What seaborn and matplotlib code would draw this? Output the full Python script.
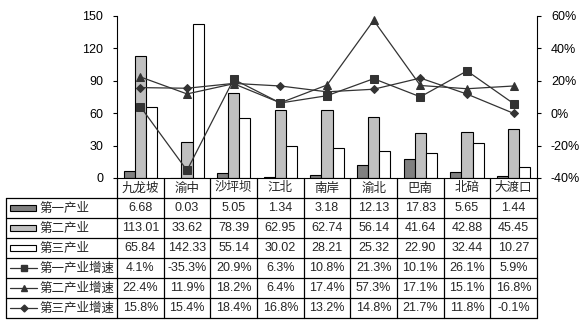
import numpy as np
import pandas as pd
import matplotlib
matplotlib.use("Agg")
import matplotlib.pyplot as plt
import seaborn as sns
from matplotlib.ticker import FuncFormatter
from matplotlib.patches import Rectangle
from matplotlib.lines import Line2D

categories = ["九龙坡", "渝中", "沙坪坝", "江北", "南岸", "渝北", "巴南", "北碚", "大渡口"]
bar_series = ["第一产业", "第二产业", "第三产业"]
ind1 = [6.68, 0.03, 5.05, 1.34, 3.18, 12.13, 17.83, 5.65, 1.44]
ind2 = [113.01, 33.62, 78.39, 62.95, 62.74, 56.14, 41.64, 42.88, 45.45]
ind3 = [65.84, 142.33, 55.14, 30.02, 28.21, 25.32, 22.90, 32.44, 10.27]
line_series = ["第一产业增速", "第二产业增速", "第三产业增速"]
g1 = [4.1, -35.3, 20.9, 6.3, 10.8, 21.3, 10.1, 26.1, 5.9]
g2 = [22.4, 11.9, 18.2, 6.4, 17.4, 57.3, 17.1, 15.1, 16.8]
g3 = [15.8, 15.4, 18.4, 16.8, 13.2, 14.8, 21.7, 11.8, -0.1]
left_ticks = [0, 30, 60, 90, 120, 150]
right_ticks = [-0.4, -0.2, 0.0, 0.2, 0.4, 0.6]

bar_colors = ["#808080", "#c0c0c0", "#ffffff"]
line_color = "#333333"
markers = ["s", "^", "D"]
msizes = [6, 6, 4.5]

sns.set_style("white")
plt.rcParams["font.family"] = ["Liberation Sans", "Noto Sans CJK SC", "DejaVu Sans"]

W, H = 584, 326
fig = plt.figure(figsize=(W / 100, H / 100), dpi=100)

L, R, T, B = 117, 537, 16, 178
ax = fig.add_axes([L / W, 1 - B / H, (R - L) / W, (B - T) / H])

bar_df = pd.DataFrame({
    "区": categories * 3,
    "产业": sum([[s] * len(categories) for s in bar_series], []),
    "值": ind1 + ind2 + ind3,
})
sns.barplot(data=bar_df, x="区", y="值", hue="产业", palette=bar_colors,
            width=0.71, edgecolor="black", linewidth=0.8, ax=ax, legend=False,
            saturation=1, zorder=2)
ax.set_xlim(-0.5, len(categories) - 0.5)
ax.set_ylim(0, 150)
ax.set_yticks(left_ticks)
ax.set_xticks([])
ax.set_xlabel("")
ax.set_ylabel("")
ax.tick_params(axis="y", direction="out", length=3, width=0.8, pad=7,
               labelsize=9, left=True, colors="black")
for s in ["top", "right"]:
    ax.spines[s].set_visible(False)
for s in ["left", "bottom"]:
    ax.spines[s].set_color("black")
    ax.spines[s].set_linewidth(0.8)
ax.patch.set_alpha(0)

ax2 = ax.twinx()
line_df = pd.DataFrame({
    "pos": list(range(len(categories))) * 3,
    "series": sum([[s] * len(categories) for s in line_series], []),
    "rate": [v / 100 for v in g1 + g2 + g3],
})
for name, mk, ms in zip(line_series, markers, msizes):
    sub = line_df[line_df["series"] == name]
    sns.lineplot(data=sub, x="pos", y="rate", color=line_color, marker=mk,
                 markersize=ms, markeredgecolor=line_color, linewidth=0.9,
                 ax=ax2, legend=False, zorder=5)
ax2.set_ylim(-0.4, 0.6)
ax2.set_yticks(right_ticks)
ax2.yaxis.set_major_formatter(FuncFormatter(lambda v, p: f"{v*100:.0f}%"))
ax2.set_xlim(-0.5, len(categories) - 0.5)
ax2.set_xlabel("")
ax2.set_ylabel("")
ax2.tick_params(axis="y", direction="out", length=3, width=0.8, pad=7,
                labelsize=9, right=True, colors="black")
for s in ["top", "left", "bottom"]:
    ax2.spines[s].set_visible(False)
ax2.spines["right"].set_color("black")
ax2.spines["right"].set_linewidth(0.8)

# data table
tab = fig.add_axes([0, 0, 1, 1])
tab.set_xlim(0, W)
tab.set_ylim(H, 0)
tab.axis("off")
tab.patch.set_alpha(0)

ncol = len(categories)
cw = (R - L) / ncol
row_h = 20
top = B
left_col = 6
n_rows = 6
bottom = top + row_h * (n_rows + 1)
lw = 0.9

# vertical lines
for i in range(ncol + 1):
    x = L + i * cw
    tab.plot([x, x], [top, bottom], color="black", lw=lw)
tab.plot([left_col, left_col], [top + row_h, bottom], color="black", lw=lw)
# horizontal lines
for r in range(1, n_rows + 2):
    y = top + r * row_h
    tab.plot([left_col, R], [y, y], color="black", lw=lw)

# header
for i, c in enumerate(categories):
    tab.text(L + (i + 0.5) * cw, top + row_h / 2, c, ha="center", va="center",
             fontsize=9, family=["Noto Sans CJK SC"])

rows = [ind1, ind2, ind3, g1, g2, g3]
labels = bar_series + line_series
for r, (vals, lab) in enumerate(zip(rows, labels)):
    yc = top + (r + 1.5) * row_h
    tab.text(39, yc, lab, ha="left", va="center", fontsize=9,
             family=["Noto Sans CJK SC", "DejaVu Sans"])
    if r < 3:
        tab.add_patch(Rectangle((10, yc - 3), 26, 6, facecolor=bar_colors[r],
                                edgecolor="black", lw=0.8))
        fmt = "{:.2f}"
    else:
        k = r - 3
        tab.add_line(Line2D([10, 37], [yc, yc], color=line_color, lw=0.9))
        tab.add_line(Line2D([23.5], [yc], color=line_color, marker=markers[k],
                            markersize=msizes[k] - 1))
        fmt = "{:.1f}%"
    for i, v in enumerate(vals):
        tab.text(L + (i + 0.5) * cw, yc, fmt.format(v), ha="center", va="center",
                 fontsize=9)

fig.savefig("out.png", dpi=100)
